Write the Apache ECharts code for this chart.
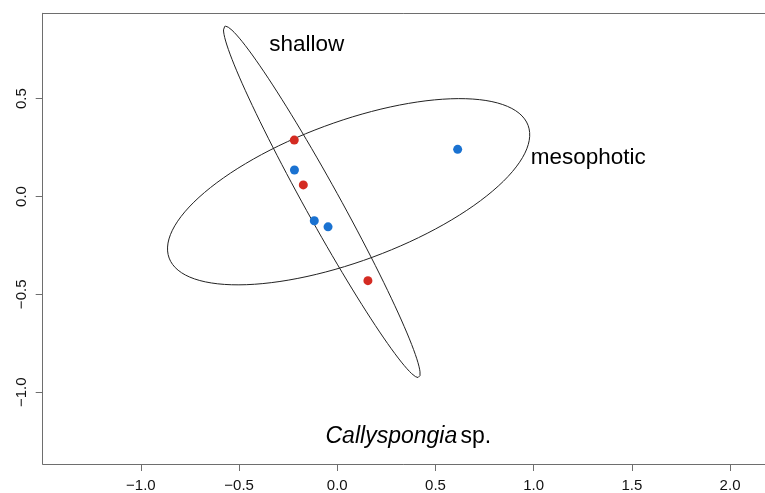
<!DOCTYPE html>
<html>
<head>
<meta charset="utf-8">
<script src="https://cdn.jsdelivr.net/npm/echarts@6/dist/echarts.min.js"></script>
<style>
  html, body { margin: 0; padding: 0; background: #fff; }
  #chart { width: 765px; height: 493px; }
</style>
</head>
<body>
<div id="chart"></div>
<script>
// Ordination scores per depth group
const shallowX = [-0.219, -0.173, 0.156];
const shallowY = [0.288, 0.059, -0.430];
const mesoX = [-0.218, -0.117, -0.047, 0.613];
const mesoY = [0.135, -0.124, -0.155, 0.241];

// Axis ticks
const xTicks = [-1.0, -0.5, 0.0, 0.5, 1.0, 1.5, 2.0];
const yTicks = [-1.0, -0.5, 0.0, 0.5];

// Group labels
const groupNames = ['shallow', 'mesophotic'];
const groupLabelX = [-0.155, 1.278];
const groupLabelY = [0.775, 0.200];
const titleX = [0.362];
const titleY = [-1.226];

// 95% standard-deviation ellipse: sqrt(qchisq(0.95, 2))
const CONF_SCALE = Math.sqrt(5.991465);

function sdEllipse(xs, ys, npts) {
  const n = xs.length;
  const mx = xs.reduce((a, b) => a + b, 0) / n;
  const my = ys.reduce((a, b) => a + b, 0) / n;
  let sxx = 0, syy = 0, sxy = 0;
  for (let i = 0; i < n; i++) {
    const dx = xs[i] - mx, dy = ys[i] - my;
    sxx += dx * dx; syy += dy * dy; sxy += dx * dy;
  }
  sxx /= (n - 1); syy /= (n - 1); sxy /= (n - 1);
  const tr = sxx + syy;
  const det = sxx * syy - sxy * sxy;
  const disc = Math.sqrt(Math.max(tr * tr / 4 - det, 0));
  const l1 = tr / 2 + disc, l2 = Math.max(tr / 2 - disc, 0);
  const theta = Math.abs(sxy) > 1e-12 ? Math.atan2(l1 - sxx, sxy) : (sxx >= syy ? 0 : Math.PI / 2);
  const a = Math.sqrt(l1) * CONF_SCALE, b = Math.sqrt(l2) * CONF_SCALE;
  const ct = Math.cos(theta), st = Math.sin(theta);
  const out = [];
  for (let k = 0; k <= npts; k++) {
    const t = 2 * Math.PI * k / npts;
    const u = a * Math.cos(t), v = b * Math.sin(t);
    out.push([mx + u * ct - v * st, my + u * st + v * ct]);
  }
  return out;
}

const zip = (xs, ys) => xs.map((x, i) => [x, ys[i]]);
const fmt = v => v.toFixed(1).replace('-', '\u2212');

const RED = '#d42b22';
const BLUE = '#1a72d1';
const FRAME = '#6e6e6e';
const FONT = '"Liberation Sans", Arial, Helvetica, sans-serif';
// The plotting region runs past the right edge of the canvas
const X_MIN = -1.5, X_MAX = 2.178, Y_MIN = -1.367, Y_MAX = 0.936;

const chart = echarts.init(document.getElementById('chart'), null, { renderer: 'canvas' });

chart.setOption({
  animation: false,
  backgroundColor: '#ffffff',
  grid: { left: 42.7, top: 13.3, right: 0, bottom: 27.3, show: false },
  xAxis: [
    {
      type: 'value', min: X_MIN, max: X_MAX, position: 'bottom',
      splitLine: { show: false },
      axisLine: { show: true, onZero: false, lineStyle: { color: FRAME, width: 1 } },
      axisTick: { show: true, length: 7, lineStyle: { color: FRAME }, customValues: xTicks },
      axisLabel: {
        customValues: xTicks, formatter: fmt, margin: 14,
        color: '#111', fontSize: 15, fontFamily: FONT
      }
    },
    {
      type: 'value', min: X_MIN, max: X_MAX, position: 'top',
      splitLine: { show: false },
      axisLine: { show: true, onZero: false, lineStyle: { color: FRAME, width: 1 } },
      axisTick: { show: false }, axisLabel: { show: false }
    }
  ],
  yAxis: {
    type: 'value', min: Y_MIN, max: Y_MAX, position: 'left',
    splitLine: { show: false },
    axisLine: { show: true, onZero: false, lineStyle: { color: FRAME, width: 1 } },
    axisTick: { show: true, length: 7, lineStyle: { color: FRAME }, customValues: yTicks },
    axisLabel: {
      customValues: yTicks, formatter: fmt, rotate: 90, margin: 13,
      color: '#111', fontSize: 15, fontFamily: FONT
    }
  },
  series: [
    {
      name: 'shallow ellipse', type: 'line', data: sdEllipse(shallowX, shallowY, 120),
      showSymbol: false, symbol: 'none', smooth: false, silent: true,
      lineStyle: { color: '#222', width: 1 }, z: 2
    },
    {
      name: 'mesophotic ellipse', type: 'line', data: sdEllipse(mesoX, mesoY, 120),
      showSymbol: false, symbol: 'none', smooth: false, silent: true,
      lineStyle: { color: '#222', width: 1 }, z: 2
    },
    {
      name: 'shallow', type: 'scatter', data: zip(shallowX, shallowY),
      symbol: 'circle', symbolSize: 9, itemStyle: { color: RED, opacity: 1 }, z: 3
    },
    {
      name: 'mesophotic', type: 'scatter', data: zip(mesoX, mesoY),
      symbol: 'circle', symbolSize: 9, itemStyle: { color: BLUE, opacity: 1 }, z: 3
    },
    {
      name: 'group labels', type: 'scatter', symbolSize: 0, silent: true,
      itemStyle: { opacity: 1 },
      data: groupNames.map((n, i) => ({ name: n, value: [groupLabelX[i], groupLabelY[i]] })),
      label: {
        show: true, position: 'inside', formatter: p => p.name,
        color: '#000', fontSize: 22.5, fontFamily: FONT
      }, z: 4
    },
    {
      name: 'taxon', type: 'scatter', symbolSize: 0, silent: true,
      itemStyle: { opacity: 1 },
      data: [{ name: 'Callyspongia sp.', value: [titleX[0], titleY[0]] }],
      label: {
        show: true, position: 'inside',
        formatter: '{i|Callyspongia} {n|sp.}',
        rich: {
          i: { fontStyle: 'italic', color: '#000', fontSize: 23, fontFamily: FONT },
          n: { color: '#000', fontSize: 23, fontFamily: FONT }
        }
      }, z: 4
    }
  ]
});
</script>
</body>
</html>
